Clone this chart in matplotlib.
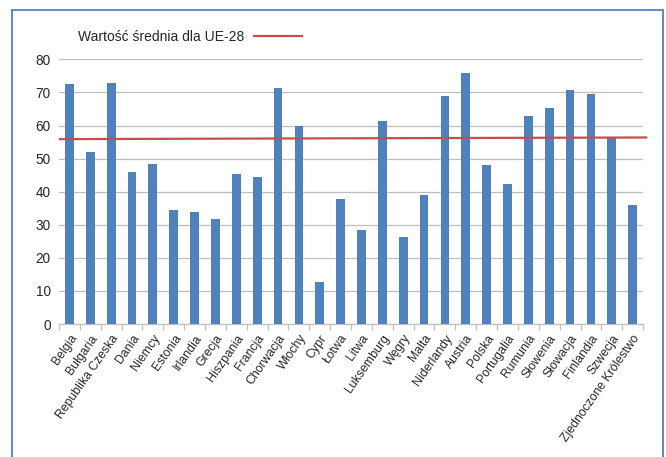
import matplotlib
matplotlib.use("Agg")
import matplotlib.pyplot as plt
import numpy as np
from matplotlib.patches import Rectangle
from matplotlib.lines import Line2D

plt.rcParams["font.family"] = ["Liberation Sans", "DejaVu Sans"]

countries = [
    "Belgia", "Bułgaria", "Republika Czeska", "Dania", "Niemcy", "Estonia",
    "Irlandia", "Grecja", "Hiszpania", "Francja", "Chorwacja", "Włochy",
    "Cypr", "Łotwa", "Litwa", "Luksemburg", "Węgry", "Malta", "Niderlandy",
    "Austria", "Polska", "Portugalia", "Rumunia", "Słowenia", "Słowacja",
    "Finlandia", "Szwecja", "Zjednoczone Królestwo",
]
values = [
    72.7, 52.1, 73.0, 46.0, 48.5, 34.4, 34.0, 31.6, 45.3, 44.5, 71.4, 60.0,
    12.8, 37.8, 28.4, 61.3, 26.2, 38.9, 68.9, 76.0, 48.2, 42.3, 62.9, 65.3,
    70.7, 69.5, 56.3, 36.0,
]
# average line as drawn (slightly tilted in the original)
mean_line = [55.9, 56.4]
legend_label = "Wartość średnia dla UE-28"
yticks = [0, 10, 20, 30, 40, 50, 60, 70, 80]

BAR_CLR = "#4F81BD"
MEAN_CLR = "#C0504D"
GRID_CLR = "#BFBFBF"
TEXT_CLR = "#262626"

fig = plt.figure(figsize=(6.66, 4.57), dpi=100)
ax = fig.add_axes([0.0886, 0.291, 0.877, 0.579])

x = np.arange(len(countries))
ax.bar(x, values, width=0.42, color=BAR_CLR, zorder=3)
ax.plot([x[0] - 0.45, x[-1] + 0.65], mean_line, color=MEAN_CLR,
        linewidth=1.6, zorder=4, clip_on=False)

ax.set_xlim(-0.5, len(countries) - 0.5)
ax.set_ylim(0, 80)
ax.set_yticks(yticks)
ax.grid(axis="y", color=GRID_CLR, linewidth=0.9)
ax.set_axisbelow(True)

ax.set_xticks(x)
ax.set_xticklabels(countries, rotation=55, ha="right", rotation_mode="anchor",
                   fontsize=8.8, color=TEXT_CLR)
ax.set_xticks(np.arange(len(countries) + 1) - 0.5, minor=True)
ax.tick_params(axis="x", which="major", length=0, pad=6)
ax.tick_params(axis="x", which="minor", length=4, color=GRID_CLR, width=0.9)
ax.tick_params(axis="y", length=0, pad=6, labelsize=9.8, labelcolor=TEXT_CLR)

for side in ["left", "right", "top"]:
    ax.spines[side].set_visible(False)
ax.spines["bottom"].set_color(GRID_CLR)
ax.spines["bottom"].set_linewidth(0.9)

# legend: text first, line after
handle = Line2D([0], [0], color=MEAN_CLR, linewidth=1.6)
fig.legend([handle], [legend_label], loc="center left",
           bbox_to_anchor=(0.099, 0.919), frameon=False, markerfirst=False,
           handlelength=3.4, handletextpad=0.7, fontsize=10,
           labelcolor=TEXT_CLR)

# outer chart border
fig.patches.append(Rectangle((0.018, -0.05), 0.977, 1.028, transform=fig.transFigure,
                             fill=False, edgecolor="#4F81BD", linewidth=1.3))

fig.savefig("out.png", dpi=100)
